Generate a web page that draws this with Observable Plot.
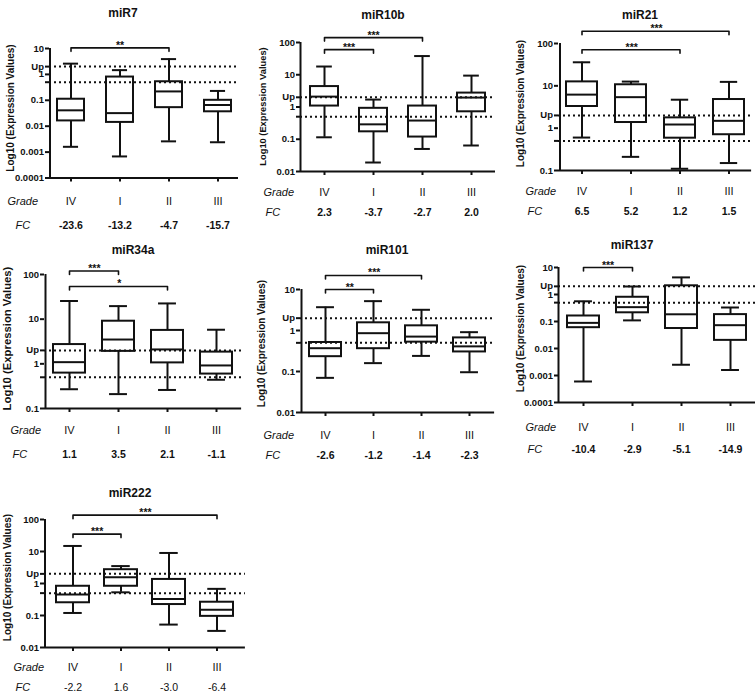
<!DOCTYPE html>
<html><head><meta charset="utf-8">
<script src="https://cdn.jsdelivr.net/npm/d3@7"></script>
<script src="https://cdn.jsdelivr.net/npm/@observablehq/plot@0.6"></script>
<style>
body{margin:0;background:#fff;}
#wrap{position:relative;width:756px;height:694px;background:#fff;font-family:"Liberation Sans",Arial,sans-serif;overflow:hidden}
.title{position:absolute;font-weight:bold;font-size:12px;transform:translate(-50%,-50%);white-space:nowrap;color:#111}
.panel{position:absolute}
</style></head><body><div id="wrap"></div>
<script>
// ---------- data ----------
const grades = ["IV", "I", "II", "III"];

const mir7Lo  = [0.0016, 0.00068, 0.0026, 0.0024];
const mir7Q1  = [0.016, 0.014, 0.052, 0.036];
const mir7Med = [0.041, 0.032, 0.22, 0.066];
const mir7Q3  = [0.11, 0.79, 0.52, 0.10];
const mir7Hi  = [2.6, 1.46, 3.9, 0.23];
const mir7FC  = ["-23.6", "-13.2", "-4.7", "-15.7"];

const mir10bLo  = [0.115, 0.019, 0.05, 0.064];
const mir10bQ1  = [1.07, 0.17, 0.117, 0.71];
const mir10bMed = [2.1, 0.29, 0.38, 1.96];
const mir10bQ3  = [4.3, 0.91, 1.07, 2.7];
const mir10bHi  = [18, 1.7, 38, 9.4];
const mir10bFC  = ["2.3", "-3.7", "-2.7", "2.0"];

const mir21Lo  = [0.6, 0.21, 0.11, 0.15];
const mir21Q1  = [3.25, 1.36, 0.58, 0.70];
const mir21Med = [6.2, 5.4, 1.22, 1.49];
const mir21Q3  = [12.4, 10.6, 1.75, 4.75];
const mir21Hi  = [36, 12.6, 4.7, 12.4];
const mir21FC  = ["6.5", "5.2", "1.2", "1.5"];

const mir34aLo  = [0.27, 0.21, 0.26, 0.44];
const mir34aQ1  = [0.62, 1.9, 1.05, 0.59];
const mir34aMed = [1.09, 3.5, 2.1, 0.92];
const mir34aQ3  = [2.7, 9.0, 5.6, 1.83];
const mir34aHi  = [25.5, 19.6, 22.5, 5.8];
const mir34aFC  = ["1.1", "3.5", "2.1", "-1.1"];

const mir101Lo  = [0.07, 0.16, 0.24, 0.096];
const mir101Q1  = [0.23, 0.36, 0.52, 0.30];
const mir101Med = [0.37, 0.86, 0.71, 0.41];
const mir101Q3  = [0.51, 1.54, 1.3, 0.66];
const mir101Hi  = [3.7, 5.2, 3.2, 0.91];
const mir101FC  = ["-2.6", "-1.2", "-1.4", "-2.3"];

const mir137Lo  = [0.0006, 0.11, 0.0025, 0.0016];
const mir137Q1  = [0.059, 0.21, 0.055, 0.020];
const mir137Med = [0.089, 0.34, 0.185, 0.073];
const mir137Q3  = [0.16, 0.79, 2.1, 0.18];
const mir137Hi  = [0.56, 1.98, 4.3, 0.33];
const mir137FC  = ["-10.4", "-2.9", "-5.1", "-14.9"];

const mir222Lo  = [0.12, 0.53, 0.052, 0.033];
const mir222Q1  = [0.25, 0.82, 0.22, 0.094];
const mir222Med = [0.45, 1.58, 0.33, 0.15];
const mir222Q3  = [0.82, 2.7, 1.34, 0.26];
const mir222Hi  = [14.9, 3.5, 9.0, 0.68];
const mir222FC  = ["-2.2", "1.6", "-3.0", "-6.4"];

// significance brackets: [from, to, level, stars]
const mir7Sig   = [["IV", "II", 10.6, "**"]];
const mir10bSig = [["IV", "I", 60, "***"], ["IV", "II", 142, "***"]];
const mir21Sig  = [["IV", "II", 71, "***"], ["IV", "III", 195, "***"]];
const mir34aSig = [["IV", "I", 120, "***"], ["IV", "II", 54, "*"]];
const mir101Sig = [["IV", "I", 10, "**"], ["IV", "II", 22, "***"]];
const mir137Sig = [["IV", "I", 10, "***"]];
const mir222Sig = [["IV", "I", 35, "***"], ["IV", "III", 137, "***"]];

const upLevel = 2, downLevel = 0.5;
const yLabel = "Log10 (Expression Values)";

// ---------- layout (page pixels) ----------
const panels = [
  {name: "miR7",   lo: mir7Lo, q1: mir7Q1, med: mir7Med, q3: mir7Q3, hi: mir7Hi, fc: mir7FC, sig: mir7Sig, domain: [1e-4, 10],
   left: 0, width: 250, axisX: 49, c0: 70, step: 49, bw: 27, yTop: 47.5, yBot: 177, titleX: 123, titleY: 13, gradeY: 200, fcY: 224, gradeLX: 7, fcLX: 15, labX: 10, labY: 107, labSize: 10, fcBold: true},
  {name: "miR10b", lo: mir10bLo, q1: mir10bQ1, med: mir10bMed, q3: mir10bQ3, hi: mir10bHi, fc: mir10bFC, sig: mir10bSig, domain: [0.01, 100],
   left: 250, width: 250, axisX: 300, c0: 324, step: 49, bw: 28, yTop: 42, yBot: 171, titleX: 383, titleY: 15, gradeY: 192, fcY: 212, gradeLX: 263, fcLX: 265, labX: 263, labY: 106, labSize: 9.3, fcBold: true},
  {name: "miR21",  lo: mir21Lo, q1: mir21Q1, med: mir21Med, q3: mir21Q3, hi: mir21Hi, fc: mir21FC, sig: mir21Sig, domain: [0.1, 100],
   left: 500, width: 256, axisX: 558, c0: 580, step: 49.7, bw: 31, yTop: 43, yBot: 170, titleX: 640, titleY: 15, gradeY: 191, fcY: 211, gradeLX: 525, fcLX: 527, labX: 520, labY: 103, labSize: 10, fcBold: true},
  {name: "miR34a", lo: mir34aLo, q1: mir34aQ1, med: mir34aMed, q3: mir34aQ3, hi: mir34aHi, fc: mir34aFC, sig: mir34aSig, domain: [0.1, 100],
   left: 0, width: 250, axisX: 44, c0: 68, step: 49.7, bw: 32, yTop: 274, yBot: 408, titleX: 133, titleY: 250, gradeY: 430, fcY: 454, gradeLX: 10, fcLX: 12, labX: 7, labY: 338, labSize: 11.3, fcBold: true},
  {name: "miR101", lo: mir101Lo, q1: mir101Q1, med: mir101Med, q3: mir101Q3, hi: mir101Hi, fc: mir101FC, sig: mir101Sig, domain: [0.01, 10],
   left: 250, width: 250, axisX: 300, c0: 324, step: 48.7, bw: 32, yTop: 289, yBot: 412, titleX: 387, titleY: 250, gradeY: 435, fcY: 455, gradeLX: 263, fcLX: 265, labX: 261, labY: 343, labSize: 10, fcBold: true},
  {name: "miR137", lo: mir137Lo, q1: mir137Q1, med: mir137Med, q3: mir137Q3, hi: mir137Hi, fc: mir137FC, sig: mir137Sig, domain: [1e-4, 10],
   left: 500, width: 256, axisX: 558, c0: 583, step: 49, bw: 32, yTop: 267, yBot: 402, titleX: 632, titleY: 245, gradeY: 427, fcY: 449, gradeLX: 525, fcLX: 527, labX: 520, labY: 328, labSize: 10, fcBold: true},
  {name: "miR222", lo: mir222Lo, q1: mir222Q1, med: mir222Med, q3: mir222Q3, hi: mir222Hi, fc: mir222FC, sig: mir222Sig, domain: [0.01, 100],
   left: 0, width: 250, axisX: 44, c0: 72, step: 48.3, bw: 33, yTop: 519, yBot: 647, titleX: 130, titleY: 493, gradeY: 667, fcY: 687, gradeLX: 13, fcLX: 15, labX: 7, labY: 577, labSize: 10, fcBold: false}
];

const wrap = document.getElementById("wrap");
const textShift = 3.5; // Plot's middle line anchor sits a little high

function decadeTicks([a, b]) {
  const t = [];
  for (let e = Math.round(Math.log10(a)); e <= Math.round(Math.log10(b)); e++) t.push(+(Math.pow(10, e)).toPrecision(1));
  return t;
}

for (const p of panels) {
  const rows = grades.map((g, i) => ({g, lo: p.lo[i], q1: p.q1[i], med: p.med[i], q3: p.q3[i], hi: p.hi[i], fc: p.fc[i]}));
  const top = p.yTop - 32;
  const height = Math.min(694, p.fcY + 12) - top;
  const pi = 1 - p.bw / p.step;
  const po = (p.c0 - p.axisX - p.bw / 2) / p.step;
  const frameRight = p.axisX + p.step * (grades.length - pi + 2 * po);
  const marginLeft = p.axisX - p.left;
  const marginRight = p.left + p.width - frameRight;
  const marginTop = p.yTop - top;
  const marginBottom = top + height - p.yBot;
  const decades = Math.log10(p.domain[1] / p.domain[0]);
  const pxPerDecade = (p.yBot - p.yTop) / decades;
  const legFactor = Math.pow(10, -3.5 / pxPerDecade);
  const yTicks = [...decadeTicks(p.domain), upLevel, downLevel];

  const sigMarks = p.sig.flatMap(([a, b, level, stars]) => {
    const pts = [
      {x: a, y: level * legFactor}, {x: a, y: level}, {x: b, y: level}, {x: b, y: level * legFactor}
    ];
    const span = grades.indexOf(b) - grades.indexOf(a);
    return [
      Plot.line(pts, {x: "x", y: "y", stroke: "#111", strokeWidth: 1.6}),
      Plot.text([stars], {x: () => a, y: () => level, text: d => d, dx: span * p.step / 2, dy: 1, lineAnchor: "bottom", fontSize: 10.5, fontWeight: "bold"})
    ];
  });

  const chart = Plot.plot({
    width: p.width,
    height,
    marginLeft, marginRight, marginTop, marginBottom,
    style: {fontFamily: "'Liberation Sans', Arial, sans-serif", fontSize: "9.5px", fontWeight: "bold", color: "#111", background: "transparent", overflow: "visible"},
    x: {type: "band", domain: grades, paddingInner: pi, paddingOuter: po},
    y: {type: "log", domain: p.domain},
    marks: [
      // whiskers
      Plot.ruleX(rows, {x: "g", y1: "lo", y2: "q1", stroke: "#111", strokeWidth: 2}),
      Plot.ruleX(rows, {x: "g", y1: "q3", y2: "hi", stroke: "#111", strokeWidth: 2}),
      Plot.tickY(rows, {x: "g", y: "lo", stroke: "#111", strokeWidth: 2, insetLeft: p.bw * 0.22, insetRight: p.bw * 0.22}),
      Plot.tickY(rows, {x: "g", y: "hi", stroke: "#111", strokeWidth: 2, insetLeft: p.bw * 0.22, insetRight: p.bw * 0.22}),
      // boxes
      Plot.barY(rows, {x: "g", y1: "q1", y2: "q3", fill: "white", stroke: "#111", strokeWidth: 2}),
      Plot.tickY(rows, {x: "g", y: "med", stroke: "#111", strokeWidth: 2}),
      // up / down thresholds
      Plot.ruleY([upLevel, downLevel], {stroke: "#111", strokeWidth: 2, strokeDasharray: "2,3"}),
      // axes
      Plot.ruleY([p.domain[0]], {stroke: "#111", strokeWidth: 2}),
      Plot.ruleX([grades[0]], {stroke: "#111", strokeWidth: 2, dx: p.axisX - p.c0}),
      Plot.axisY({ticks: yTicks, tickFormat: d => d === upLevel ? "Up" : d === downLevel ? "Down" : String(d), tickSize: 4, tickPadding: 1.5, strokeWidth: 2, label: null, fontSize: 9.5, fontWeight: "bold"}),
      Plot.axisX({tickSize: 4, tickFormat: () => "", strokeWidth: 2, label: null}),
      // y title
      Plot.text([yLabel], {text: d => d, frameAnchor: "left", textAnchor: "middle", rotate: -90, dx: p.labX - p.axisX, dy: p.labY - (p.yTop + p.yBot) / 2, fontSize: p.labSize, fontWeight: "bold"}),
      // grade row
      Plot.text(["Grade"], {text: d => d, frameAnchor: "bottom-left", textAnchor: "start", dx: p.gradeLX - p.axisX, dy: p.gradeY - p.yBot + textShift, fontStyle: "italic", fontWeight: "normal", fontSize: 11}),
      Plot.text(rows, {x: "g", text: "g", frameAnchor: "bottom", dy: p.gradeY - p.yBot + textShift, fontWeight: "normal", fontSize: 11}),
      // FC row
      Plot.text(["FC"], {text: d => d, frameAnchor: "bottom-left", textAnchor: "start", dx: p.fcLX - p.axisX, dy: p.fcY - p.yBot + textShift, fontStyle: "italic", fontWeight: "normal", fontSize: 11}),
      Plot.text(rows, {x: "g", text: "fc", frameAnchor: "bottom", dy: p.fcY - p.yBot + textShift, fontWeight: p.fcBold ? "bold" : "normal", fontSize: 10.5}),
      ...sigMarks
    ]
  });
  chart.classList.add("panel");
  chart.style.left = p.left + "px";
  chart.style.top = top + "px";
  wrap.appendChild(chart);

  const t = document.createElement("div");
  t.className = "title";
  t.textContent = p.name;
  t.style.left = p.titleX + "px";
  t.style.top = p.titleY + "px";
  wrap.appendChild(t);
}
</script>
</body></html>
